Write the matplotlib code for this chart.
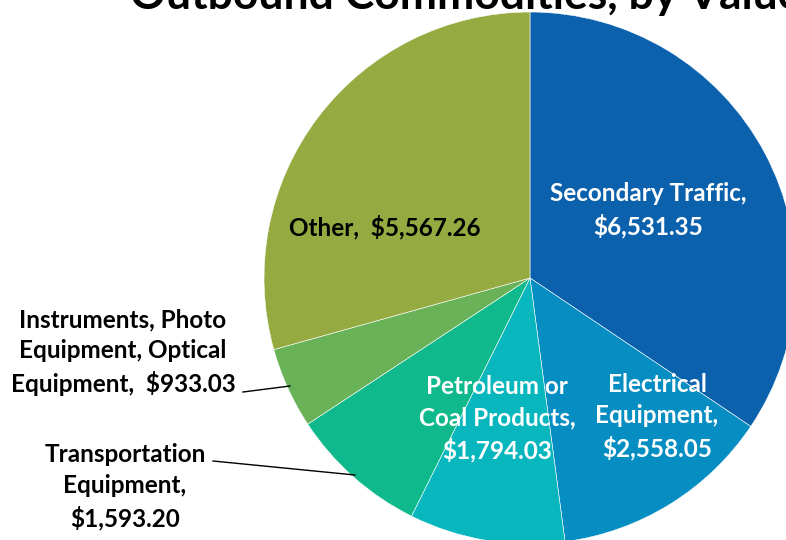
import matplotlib.pyplot as plt

# ==============================
# DATA
# ==============================
categories = ["Secondary Traffic", "Electrical Equipment", "Petroleum or Coal Products",
              "Transportation Equipment", "Instruments, Photo Equipment, Optical Equipment", "Other"]
values = [6531.35, 2558.05, 1794.03, 1593.20, 933.03, 5567.26]
label_texts = ["Secondary Traffic,\n$6,531.35",
               "Electrical\nEquipment,\n$2,558.05",
               "Petroleum or\nCoal Products,\n$1,794.03",
               "Transportation\nEquipment,\n$1,593.20",
               "Instruments, Photo\nEquipment, Optical\nEquipment,  $933.03",
               "Other,  $5,567.26"]
colors = ["#0C61AD", "#068DC2", "#08B7BE", "#10B98B", "#6AB258", "#95AB42"]

plt.rcParams['font.family'] = ['Lato', 'DejaVu Sans']

W, H = 786, 540
fig = plt.figure(figsize=(W / 100, H / 100), dpi=100)
ax = fig.add_axes([0, 0, 1, 1])

# pie is bigger than the canvas on the right and bottom, as in the original
cx, cy, r = 530, H - 278, 266
ax.pie(values, colors=colors, startangle=90, counterclock=False,
       center=(cx, cy), radius=r, frame=True,
       wedgeprops=dict(edgecolor='white', linewidth=0.4))
ax.set_xlim(0, W)
ax.set_ylim(0, H)
ax.set_aspect('equal')
ax.axis('off')

kw = dict(fontsize=17.5, fontweight='bold', ha='center', va='center', linespacing=1.42)
ax.text(648, H - 210, label_texts[0], color='white', **kw)
ax.text(657, H - 417, label_texts[1], color='white', **kw)
ax.text(497, H - 419, label_texts[2], color='white', **kw)
ax.text(125, H - 487, label_texts[3], color='black', **kw)
ax.text(123, H - 352, label_texts[4], color='black', **kw)
ax.text(385, H - 227, label_texts[5], color='black', **kw)

# leader lines
ax.plot([243, 290], [H - 392, H - 386], color='black', lw=1)
ax.plot([213, 355], [H - 461, H - 475], color='black', lw=1)

# title (cut off at top like the reference)
ax.text(130, H - 9, "Outbound Commodities, by Value", fontsize=32, fontweight='bold',
        ha='left', va='baseline', color='black')

fig.savefig("out.png", dpi=100)
